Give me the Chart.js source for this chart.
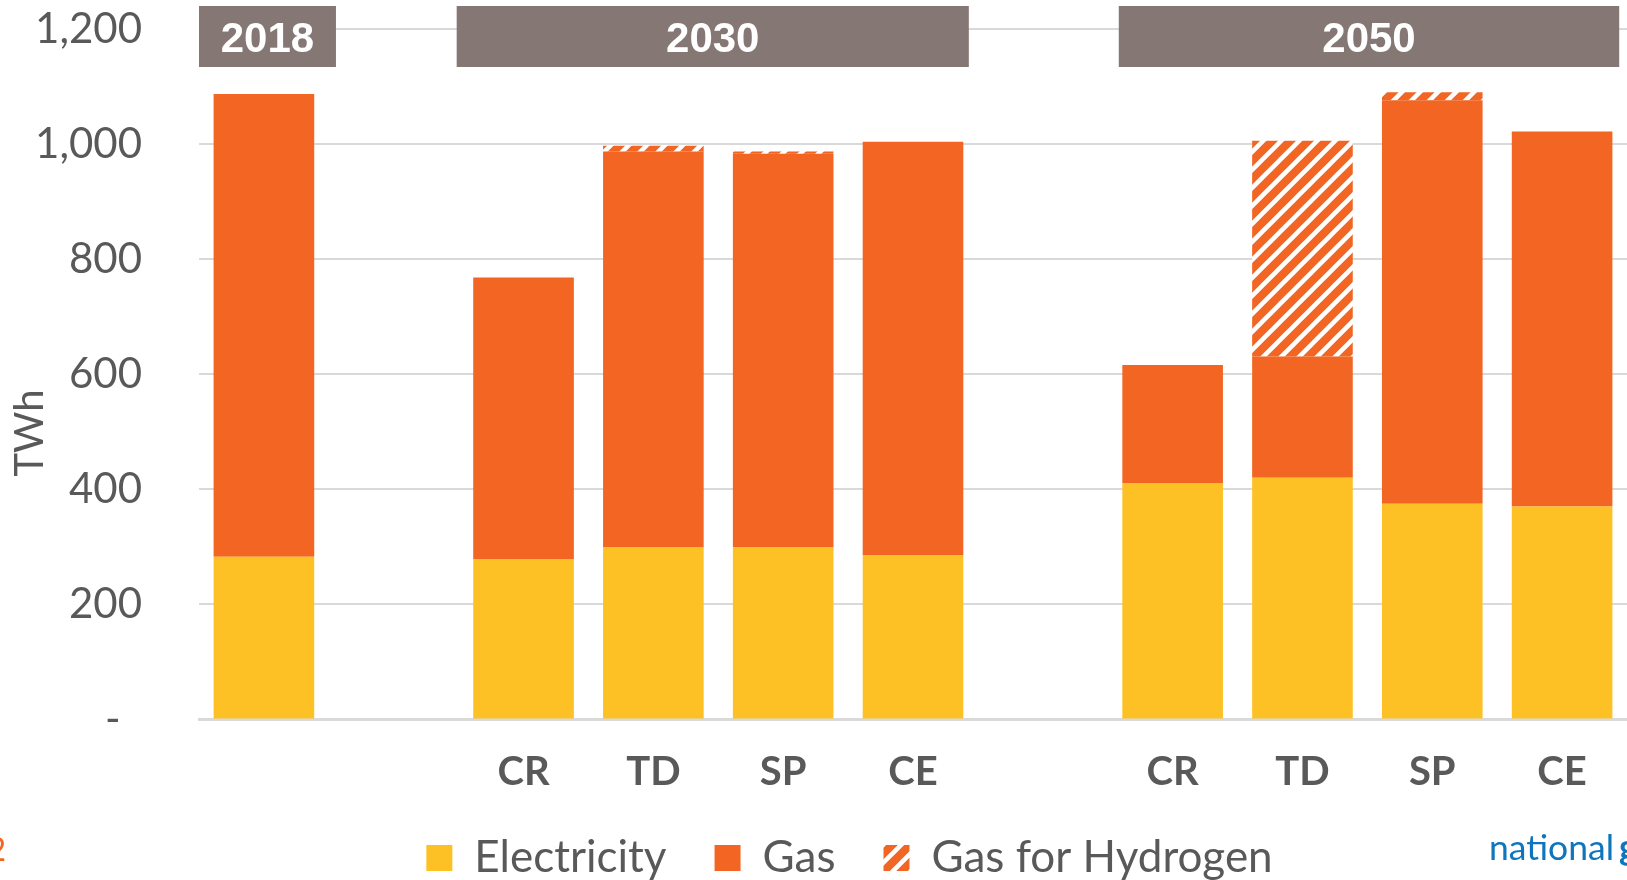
<!DOCTYPE html>
<html lang="en">
<head>
    <meta charset="UTF-8">
    <title>Energy demand TWh</title>
    <script src="https://cdn.jsdelivr.net/npm/chart.js"></script>
    <style>
        html, body { margin: 0; padding: 0; background: #fff; overflow: hidden; }
    </style>
</head>
<body>
    <canvas id="demandChart" width="1627" height="890"></canvas>

    <script>
        // categories (blank slots separate the year groups)
        const categories = ['', '', 'CR', 'TD', 'SP', 'CE', '', 'CR', 'TD', 'SP', 'CE'];
        const electricity = [283, null, 279, 299, 299, 286, null, 411, 420, 375, 370];
        const gas = [804, null, 489, 688, 684, 718, null, 205, 211, 701, 652];
        const gasForHydrogen = [0, null, 0, 10, 4, 0, null, 0, 375, 14, 0];
        const yTicks = [0, 200, 400, 600, 800, 1000, 1200];

        // year header boxes: label, first and last category index
        const yearLabels = ['2018', '2030', '2050'];
        const yearFirst = [0, 2, 7];
        const yearLast = [0, 5, 10];

        const YELLOW = '#FDC125';
        const ORANGE = '#F26522';
        const GREY_BOX = '#857874';
        const TEXT = '#595959';
        const GRID = '#D9D9D9';
        const FONT = 'Lato, "Open Sans", sans-serif';

        function makeHatch() {
            let c = document.createElement('canvas');
            c.width = 18; c.height = 18;
            let g = c.getContext('2d');
            g.fillStyle = ORANGE;
            g.fillRect(0, 0, 18, 18);
            g.strokeStyle = '#ffffff';
            g.lineWidth = 4.5;
            g.beginPath();
            g.moveTo(-9, 9); g.lineTo(9, -9);
            g.moveTo(0, 18); g.lineTo(18, 0);
            g.moveTo(9, 27); g.lineTo(27, 9);
            g.stroke();
            return g.createPattern(c, 'repeat');
        }
        const hatch = makeHatch();

        // header boxes, axis title and slide leftovers
        const extras = {
            id: 'extras',
            afterLayout(chart) {
                // nudge legend to the right like the original slide
                chart.legend.left += 36;
                chart.legend.right += 36;
            },
            afterDatasetsDraw(chart) {
                const ctx = chart.ctx;
                const x = chart.scales.x;
                const slot = (x.right - x.left) / categories.length;
                const edges = [[-0.5, 0.555], [-0.515, 0.43], [-0.415, 0.44]];
                ctx.save();
                yearLabels.forEach((lbl, i) => {
                    let l = x.getPixelForValue(yearFirst[i]) + edges[i][0] * slot;
                    let r = x.getPixelForValue(yearLast[i]) + edges[i][1] * slot;
                    ctx.fillStyle = GREY_BOX;
                    ctx.fillRect(l, 6, r - l, 61);
                    ctx.fillStyle = '#ffffff';
                    ctx.font = 'bold 42px "Liberation Sans", Arial, sans-serif';
                    ctx.textAlign = 'center';
                    ctx.textBaseline = 'middle';
                    ctx.fillText(lbl, (l + r) / 2, 40);
                });

                // y axis title
                ctx.translate(30, 433);
                ctx.rotate(-Math.PI / 2);
                ctx.font = '40px ' + FONT;
                ctx.fillStyle = TEXT;
                ctx.fillText('TWh', 0, 0);
                ctx.restore();

                ctx.save();
                ctx.textBaseline = 'alphabetic';
                ctx.fillStyle = ORANGE;
                ctx.font = '32px ' + FONT;
                ctx.textAlign = 'right';
                ctx.fillText('2', 6, 861);
                ctx.fillStyle = '#0F75BC';
                ctx.textAlign = 'left';
                ctx.font = '35.5px ' + FONT;
                ctx.fillText('national', 1489, 860);
                let w = ctx.measureText('national').width;
                ctx.font = 'bold 35.5px ' + FONT;
                ctx.fillText('grid', 1489 + w + 5, 860);
                ctx.restore();
            }
        };

        let ctx = document.getElementById('demandChart').getContext('2d');
        let demandChart = new Chart(ctx, {
            type: 'bar',
            data: {
                labels: categories,
                datasets: [
                    { label: 'Electricity', data: electricity, backgroundColor: YELLOW },
                    { label: 'Gas', data: gas, backgroundColor: ORANGE },
                    { label: 'Gas for Hydrogen', data: gasForHydrogen, backgroundColor: hatch }
                ]
            },
            options: {
                responsive: false,
                animation: false,
                barPercentage: 0.775,
                categoryPercentage: 1.0,
                layout: { padding: { top: 29, right: 0, left: 0, bottom: 0 } },
                plugins: {
                    tooltip: { enabled: false },
                    legend: {
                        position: 'bottom',
                        labels: {
                            boxWidth: 26,
                            boxHeight: 26,
                            padding: 48,
                            color: TEXT,
                            font: { family: FONT, size: 44 }
                        }
                    }
                },
                scales: {
                    x: {
                        stacked: true,
                        grid: { display: false },
                        border: { color: GRID, width: 3 },
                        ticks: {
                            color: TEXT,
                            padding: 21,
                            maxRotation: 0,
                            autoSkip: false,
                            font: { family: FONT, size: 40, weight: 'bold' }
                        },
                        afterFit: (s) => { s.height = 68.5; }
                    },
                    y: {
                        stacked: true,
                        min: 0,
                        max: 1200,
                        afterBuildTicks: (s) => { s.ticks = yTicks.map(v => ({ value: v })); },
                        grid: { color: GRID, lineWidth: 2, drawTicks: true, tickLength: 55, tickColor: 'rgba(0,0,0,0)' },
                        border: { display: false },
                        ticks: {
                            color: TEXT,
                            padding: 2,
                            font: { family: FONT, size: 42 },
                            callback: (v) => v === 0 ? '-  ' : v.toLocaleString('en-US')
                        },
                        afterFit: (s) => { s.width = 199; }
                    }
                }
            },
            plugins: [extras]
        });
    </script>
</body>
</html>
